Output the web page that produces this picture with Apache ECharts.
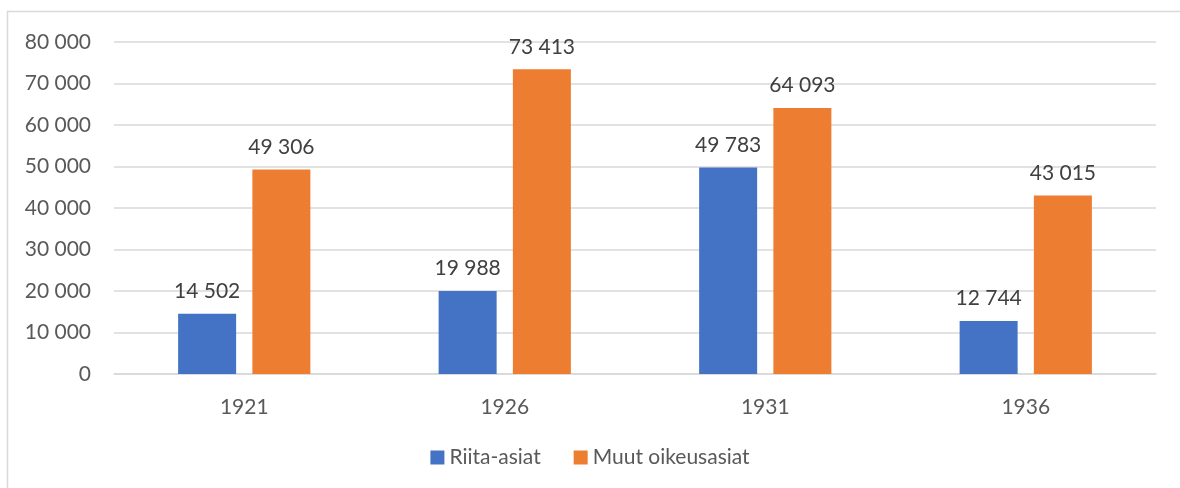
<!DOCTYPE html>
<html>
<head>
<meta charset="utf-8">
<script src="https://cdn.jsdelivr.net/npm/echarts@6/dist/echarts.min.js"></script>
<style>
  html, body { margin: 0; padding: 0; background: #fff; }
  #chart { width: 1180px; height: 488px; }
</style>
</head>
<body>
<div id="chart"></div>
<script>
// Vuodet ja asiamäärät
var years = ['1921', '1926', '1931', '1936'];
var riitaAsiat = [14502, 19988, 49783, 12744];
var muutAsiat = [49306, 73413, 64093, 43015];

function fmt(v) {
  return String(v).replace(/\B(?=(\d{3})+(?!\d))/g, ' ');
}

var chart = echarts.init(document.getElementById('chart'));
var font = 'Lato, "Open Sans", sans-serif';

var option = {
  animation: false,
  textStyle: { fontFamily: font },
  graphic: [{
    type: 'rect',
    shape: { x: 7.5, y: 11.5, width: 1220, height: 500 },
    style: { fill: 'none', stroke: '#d9d9d9', lineWidth: 1.5 },
    silent: true
  }],
  grid: { left: 114, right: 24, top: 42, bottom: 114, containLabel: false },
  legend: {
    bottom: 15,
    left: 'center',
    itemWidth: 14,
    itemHeight: 14,
    itemGap: 33,
    icon: 'rect',
    textStyle: { color: '#595959', fontSize: 21, fontFamily: font },
    data: ['Riita-asiat', 'Muut oikeusasiat']
  },
  xAxis: {
    type: 'category',
    data: years,
    axisTick: { show: false },
    axisLine: { lineStyle: { color: '#d9d9d9', width: 1.5 } },
    axisLabel: { color: '#595959', fontSize: 21, margin: 23 }
  },
  yAxis: {
    type: 'value',
    min: 0,
    max: 80000,
    interval: 10000,
    axisLine: { show: false },
    axisTick: { show: false },
    splitLine: { lineStyle: { color: '#d9d9d9', width: 1.5 } },
    axisLabel: {
      color: '#595959',
      fontSize: 21,
      margin: 23,
      formatter: function (v) { return fmt(v); }
    }
  },
  series: [{
    name: 'Riita-asiat',
    type: 'bar',
    data: riitaAsiat,
    barWidth: 58,
    barGap: '28%',
    itemStyle: { color: '#4472c4' },
    label: {
      show: true,
      position: 'top',
      distance: 12,
      color: '#404040',
      fontSize: 21,
      formatter: function (p) { return fmt(p.value); }
    }
  }, {
    name: 'Muut oikeusasiat',
    type: 'bar',
    data: muutAsiat,
    barWidth: 58,
    itemStyle: { color: '#ed7d31' },
    label: {
      show: true,
      position: 'top',
      distance: 12,
      color: '#404040',
      fontSize: 21,
      formatter: function (p) { return fmt(p.value); }
    }
  }]
};

chart.setOption(option);
</script>
</body>
</html>
